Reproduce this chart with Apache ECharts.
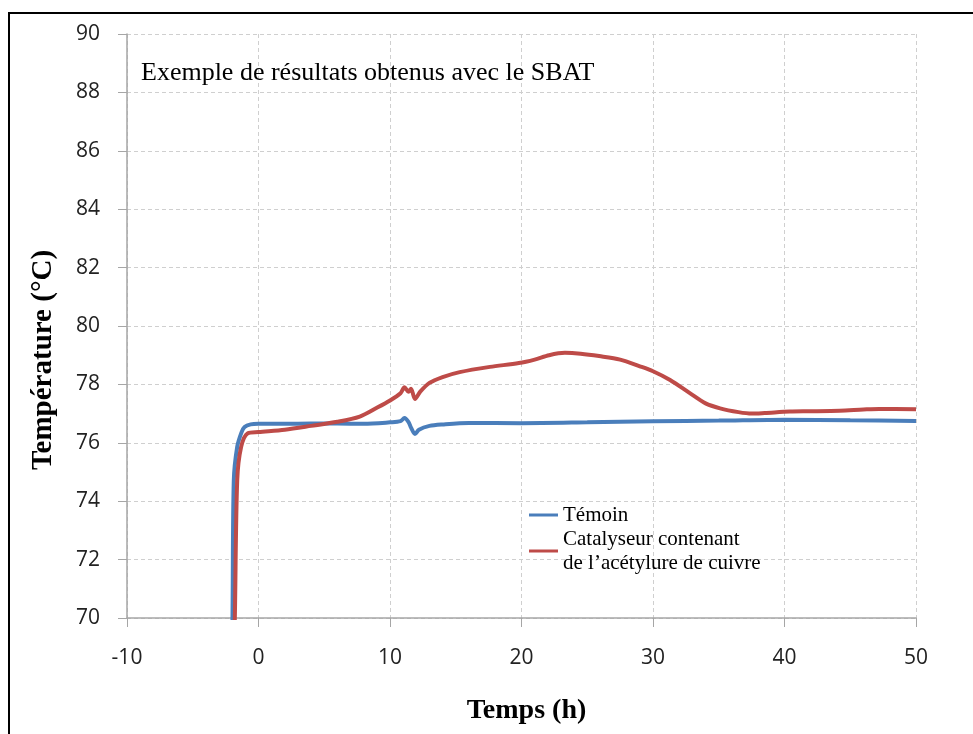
<!DOCTYPE html>
<html>
<head>
<meta charset="utf-8">
<script src="https://cdn.jsdelivr.net/npm/echarts@6/dist/echarts.min.js"></script>
<style>
html, body { margin: 0; padding: 0; background: #fff; }
#main { width: 973px; height: 734px; }
</style>
</head>
<body>
<div id="main"></div>
<script>
// Témoin (blue) - [time h, temperature °C]
var temoin = [
    [-2.05, 69], [-1.98, 70], [-1.88, 74.7], [-1.62, 75.86], [-1.3, 76.35], [-1.06, 76.54],
    [-0.6, 76.63], [0, 76.65], [2, 76.65], [4, 76.66], [6, 76.66], [8, 76.65],
    [10, 76.7], [10.8, 76.74], [11.1, 76.85], [11.4, 76.72], [11.6, 76.52], [11.9, 76.3],
    [12.2, 76.45], [13, 76.58], [14, 76.63], [16, 76.68], [20, 76.67], [25, 76.7],
    [30, 76.74], [35, 76.76], [40, 76.79], [45, 76.77], [50, 76.75]
];
// Catalyseur contenant de l'acétylure de cuivre (red)
var catalyseur = [
    [-1.88, 69], [-1.8, 70], [-1.62, 74.7], [-1.32, 75.86], [-0.81, 76.33], [0, 76.37],
    [2, 76.45], [4, 76.58], [6, 76.72], [7.7, 76.9], [9, 77.2], [10, 77.45],
    [10.8, 77.7], [11.1, 77.9], [11.4, 77.75], [11.6, 77.85], [11.9, 77.5], [12.3, 77.75],
    [13, 78.05], [14, 78.25], [15.3, 78.42], [17.6, 78.6], [19.8, 78.73], [21, 78.85],
    [22.1, 79.0], [23.3, 79.08], [24.5, 79.05], [25.9, 78.97], [27.5, 78.85], [29, 78.62],
    [30, 78.45], [31.3, 78.15], [32.8, 77.7], [34, 77.35], [35.1, 77.18], [36.5, 77.05],
    [37.5, 77.0], [38.5, 77.02], [40.4, 77.07], [42, 77.08], [44.2, 77.1], [46, 77.14],
    [47.2, 77.16], [50, 77.15]
];
var seriesNames = ['Témoin', 'Catalyseur contenant\nde l\u2019acétylure de cuivre'];
var seriesColors = ['#4a7ebb', '#be4b48'];

var serif = "'Liberation Serif', 'DejaVu Serif', serif";
var narrow = "'Liberation Sans Narrow', 'Open Sans', sans-serif";

var chart = echarts.init(document.getElementById('main'));
var option = {};

option['backgroundColor'] = '#ffffff';
option['animation'] = false;

option['title'] = {
    text: 'Exemple de résultats obtenus avec le SBAT',
    left: 136,
    top: 55,
    textStyle: {
        fontFamily: serif,
        fontWeight: 'normal',
        fontSize: 26,
        color: '#000'
    }
};

option['legend'] = {
    data: seriesNames,
    orient: 'vertical',
    left: 529,
    top: 503,
    padding: 0,
    itemGap: 0,
    itemWidth: 29,
    itemHeight: 3,
    itemStyle: { borderWidth: 0 },
    icon: 'rect',
    textStyle: {
        fontFamily: serif,
        fontSize: 21,
        lineHeight: 24,
        color: '#000'
    }
};

option['grid'] = {
    left: 127,
    right: 57,
    top: 34,
    bottom: 116
};

option['xAxis'] = {
    type: 'value',
    min: -10,
    max: 50,
    interval: 10,
    name: 'Temps (h)',
    nameLocation: 'middle',
    nameGap: 79,
    nameTextStyle: {
        fontFamily: serif,
        fontWeight: 'bold',
        fontSize: 28,
        color: '#000',
        verticalAlign: 'top',
        padding: [0, 0, 0, 10]
    },
    axisLine: { show: true, onZero: false, lineStyle: { color: '#a6a6a6', width: 1.5 } },
    axisTick: { show: true, length: 9, lineStyle: { color: '#a6a6a6' } },
    axisLabel: { margin: 30, fontFamily: narrow, fontSize: 21, color: '#222' },
    splitLine: { show: true, lineStyle: { color: '#cfcfcf', type: [4, 3] } }
};

option['yAxis'] = {
    type: 'value',
    min: 70,
    max: 90,
    interval: 2,
    name: 'Température (°C)',
    nameLocation: 'middle',
    nameGap: 69,
    nameTextStyle: {
        fontFamily: serif,
        fontWeight: 'bold',
        fontSize: 29,
        color: '#000',
        padding: [0, 68, 0, 0]
    },
    axisLine: { show: true, onZero: false, lineStyle: { color: '#a6a6a6', width: 1.5 } },
    axisTick: { show: true, length: 9, lineStyle: { color: '#a6a6a6' } },
    axisLabel: { margin: 27, fontFamily: narrow, fontSize: 21, color: '#222' },
    splitLine: { show: true, lineStyle: { color: '#cfcfcf', type: [4, 3] } }
};

option['series'] = [];
var allData = [temoin, catalyseur];
for (var i = 0; i < allData.length; i++){
    option['series'].push({
        name: seriesNames[i],
        type: 'line',
        data: allData[i],
        showSymbol: false,
        smooth: 0.3,
        color: seriesColors[i],
        lineStyle: { width: 4, color: seriesColors[i] },
        z: 3 + i
    });
}

// black frame around the figure (cut by the right and bottom edges)
option['graphic'] = [{
    type: 'rect',
    shape: { x: 9, y: 13, width: 1000, height: 1000 },
    style: { fill: 'none', stroke: '#000', lineWidth: 2 },
    silent: true
}];

option && chart.setOption(option);
</script>
</body>
</html>
